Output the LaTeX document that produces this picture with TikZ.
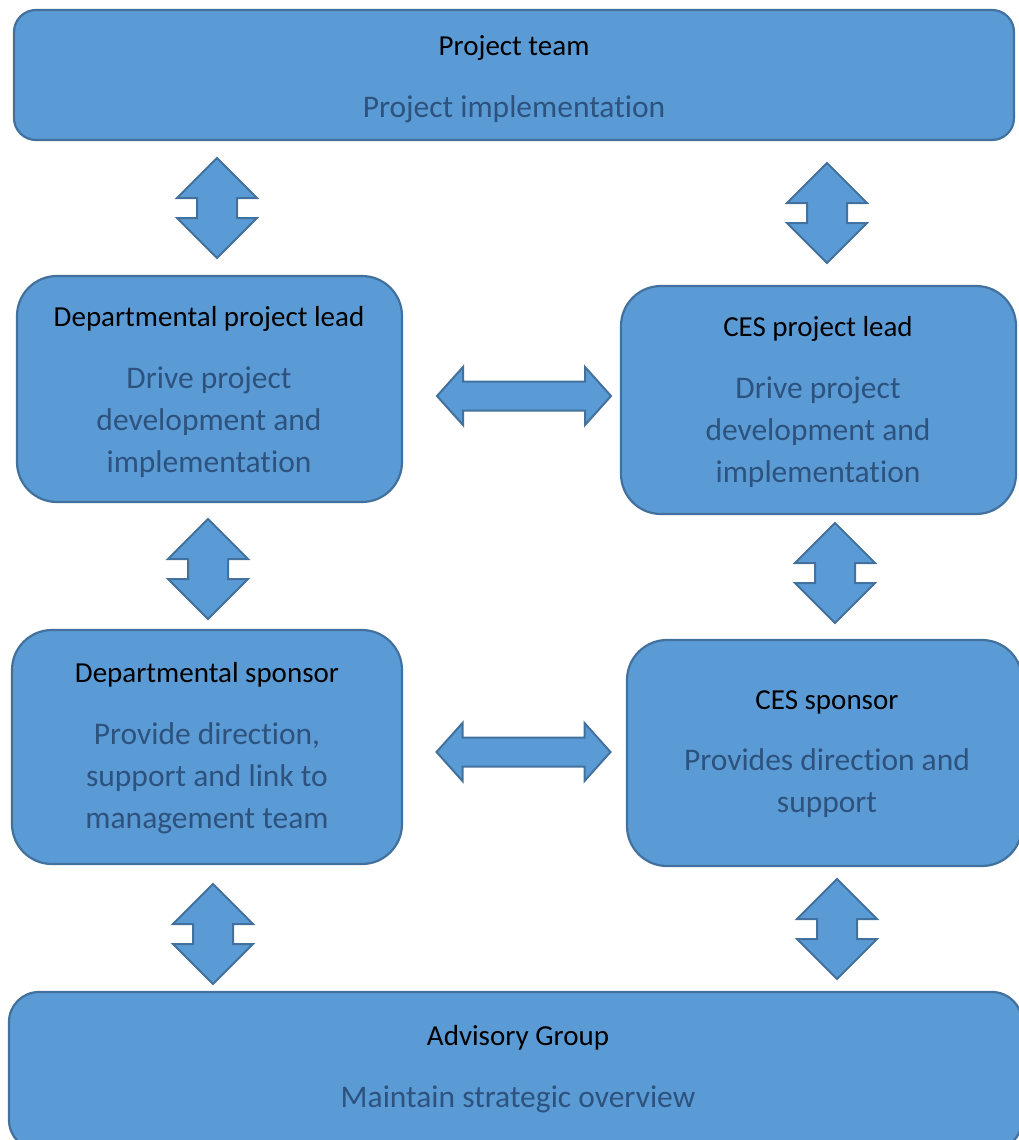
\documentclass[tikz,border=0pt]{standalone}
\usepackage{fontspec}
\setmainfont{Carlito}[Ligatures=NoCommon]
\definecolor{boxfill}{HTML}{5B9BD5}
\definecolor{boxline}{HTML}{41719C}
\definecolor{subtext}{HTML}{2C527D}
\tikzset{
  vlink/.pic={\draw[link] (0,-50) -- (40,-10) -- (20,-10) -- (20,10) -- (40,10) -- (0,50)
    -- (-40,10) -- (-20,10) -- (-20,-10) -- (-40,-10) -- cycle;},
  hlink/.pic={\draw[link] (-87,0) -- (-61,-29) -- (-61,-14.5) -- (61,-14.5) -- (61,-29) -- (87,0)
    -- (61,29) -- (61,14.5) -- (-61,14.5) -- (-61,29) -- cycle;}
}
\begin{document}
\begin{tikzpicture}[x=1pt, y=-1pt]
  \useasboundingbox (0,0) rectangle (1019,1140);
  \tikzstyle{role}=[draw=boxline, fill=boxfill, line width=2.2pt, rounded corners=40pt, inner sep=0pt]
  \tikzstyle{title}=[font=\fontsize{29}{34}\selectfont, text=black]
  \tikzstyle{duty}=[font=\fontsize{31.5}{42}\selectfont, text=subtext, align=center]
  \tikzstyle{link}=[draw=boxline, fill=boxfill, line width=2pt, line join=miter]

  % Kaesten
  \node[role, rounded corners=22pt, minimum width=1000pt, minimum height=130pt] (pteam) at (514, 75) {};
  \node[role, minimum width=385pt, minimum height=226pt] (dlead) at (209.5, 389) {};
  \node[role, minimum width=395pt, minimum height=228pt] (clead) at (818.5, 400) {};
  \node[role, minimum width=390pt, minimum height=234pt] (dspon) at (207, 747) {};
  \node[role, minimum width=395pt, minimum height=226pt] (cspon) at (824.5, 753) {};
  \node[role, rounded corners=30pt, minimum width=1013pt, minimum height=158pt] (agroup) at (515.5, 1071) {};

  % Texte
  \node[title] (pteamt) at (514, 48) {Project team};
  \node[duty] (pteamd) at (514, 109) {Project implementation};
  \node[title] (dleadt) at (209, 319) {Departmental project lead};
  \node[duty] (dleadd) at (209, 422) {Drive project\\development and\\implementation};
  \node[title] (cleadt) at (818, 329) {CES project lead};
  \node[duty] (cleadd) at (818, 432) {Drive project\\development and\\implementation};
  \node[title] (dspont) at (207, 675) {Departmental sponsor};
  \node[duty] (dspond) at (207, 778) {Provide direction,\\support and link to\\management team};
  \node[title] (cspont) at (827, 702) {CES sponsor};
  \node[duty] (cspond) at (827, 783) {Provides direction and\\support};
  \node[title] (agroupt) at (518, 1038) {Advisory Group};
  \node[duty] (agroupd) at (518, 1099) {Maintain strategic overview};

  % Pfeile
  \pic (a1) at (217, 208) {vlink};
  \pic (a2) at (827, 213) {vlink};
  \pic (a3) at (208, 569) {vlink};
  \pic (a4) at (835, 573) {vlink};
  \pic (a5) at (213, 934) {vlink};
  \pic (a6) at (837, 929) {vlink};
  \pic (a7) at (524, 396) {hlink};
  \pic (a8) at (523.5, 752) {hlink};
\end{tikzpicture}
\end{document}
